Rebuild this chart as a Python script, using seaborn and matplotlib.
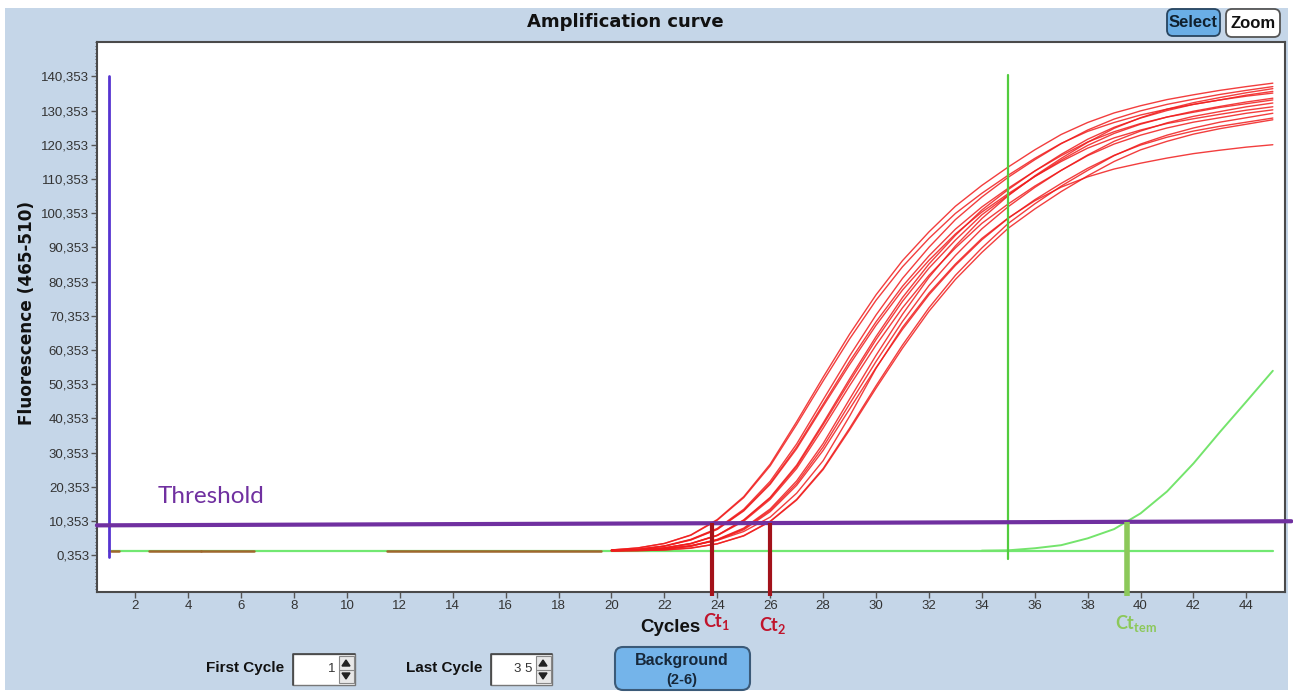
import pandas as pd
import matplotlib
matplotlib.use('Agg')
import matplotlib.pyplot as plt
import seaborn as sns
from matplotlib.patches import Rectangle, FancyBboxPatch, Polygon

# red sample curves, one value per cycle 20..45
red_cycles = list(range(20, 46))
curve_01 = [1900, 2500, 3800, 6300, 10800, 17500, 27000, 39400, 52400, 65000, 76500, 86500, 94900, 102400, 108500, 113900, 118900, 123400, 126900, 129700, 131800, 133600, 135000, 136300, 137400, 138400]
curve_02 = [1800, 2100, 3100, 5000, 8200, 13800, 22000, 32900, 45800, 58600, 70600, 81300, 90400, 98500, 105100, 110900, 116000, 120700, 124700, 127900, 130300, 132200, 133700, 135100, 136300, 137400]
curve_03 = [1900, 2500, 3800, 6200, 10600, 17200, 26500, 38600, 51300, 63600, 74900, 84700, 93000, 100300, 106200, 111500, 116400, 120800, 124300, 126900, 129100, 130800, 132200, 133500, 134600, 135500]
curve_04 = [1700, 1900, 2500, 3800, 6200, 10700, 17300, 26700, 39000, 51900, 64300, 75700, 85500, 93900, 101300, 107300, 112700, 117600, 122000, 125500, 128200, 130400, 132200, 133500, 134900, 136000]
curve_05 = [1800, 2100, 3000, 4900, 8000, 13500, 21400, 32000, 44500, 57000, 68600, 79000, 87900, 95700, 102200, 107700, 112700, 117200, 121200, 124200, 126600, 128500, 129900, 131300, 132400, 133500]
curve_06 = [1700, 1800, 2100, 3000, 4900, 8100, 13500, 21400, 32000, 44600, 57000, 68700, 79200, 88000, 95800, 102300, 107900, 112900, 117400, 121400, 124400, 126800, 128700, 130100, 131500, 132600]
curve_07 = [1700, 1900, 2500, 3700, 6100, 10300, 16700, 25700, 37500, 49900, 61800, 72700, 82200, 90200, 97400, 103100, 108300, 112900, 117200, 120600, 123200, 125300, 127000, 128300, 129600, 130600]
curve_08 = [1700, 1700, 1900, 2500, 3700, 6100, 10300, 16700, 25700, 37500, 49900, 61800, 72700, 82200, 90200, 97400, 103100, 108300, 112900, 117200, 120600, 123200, 125300, 127000, 128300, 129600]
curve_09 = [1700, 1800, 2100, 3000, 4800, 7800, 13100, 20800, 31000, 43100, 55200, 66400, 76500, 85100, 92600, 98900, 104300, 109100, 113500, 117300, 120300, 122600, 124400, 125800, 127000, 128200]
curve_10 = [1700, 1700, 1900, 2400, 3700, 6000, 10200, 16500, 25400, 37000, 49200, 60900, 71700, 81000, 88900, 96000, 101600, 106700, 111300, 115500, 118900, 121400, 123500, 125100, 126400, 127700]
curve_11 = [1800, 2100, 3000, 4800, 7900, 13300, 21100, 31500, 43900, 56100, 67600, 77900, 86600, 94300, 100700, 106100, 111100, 115500, 119400, 122400, 124700, 126600, 128000, 129300, 130500, 131500]
curve_12 = [1700, 1900, 2500, 3800, 6200, 10600, 17100, 26300, 38500, 51100, 63400, 74600, 84300, 92500, 99900, 105700, 111100, 115900, 120200, 123700, 126400, 128500, 130200, 131600, 132900, 134000]
curve_13 = [1700, 1800, 2200, 3100, 5000, 8300, 13900, 22100, 33000, 46000, 58800, 70800, 81600, 90800, 98800, 105500, 111300, 116400, 121100, 125200, 128300, 130800, 132700, 134200, 135600, 136800]
curve_14 = [1700, 1800, 2300, 3200, 4700, 7300, 11500, 18500, 28000, 41000, 55000, 67000, 77000, 85500, 93000, 99000, 104000, 108000, 111000, 113300, 115000, 116500, 117800, 118800, 119700, 120400]
red_curves = [curve_01, curve_02, curve_03, curve_04, curve_05, curve_06, curve_07,
              curve_08, curve_09, curve_10, curve_11, curve_12, curve_13, curve_14]

# late green sample (template)
green_cycles = [34, 35, 36, 37, 38, 39, 40, 41, 42, 43, 44, 45]
green_values = [1700, 1800, 2400, 3300, 5300, 8000, 12600, 19000, 27200, 36400, 45300, 54300]

baseline_x = [1, 45]
baseline_y = [1700, 1700]
# early baseline stretches of the red wells, drawn over the green line
brown_x0 = [1.1, 2.5, 4.5, 11.5]
brown_x1 = [1.4, 4.5, 6.5, 19.6]

threshold_x = [0.55, 45.7]
threshold_y = [9100, 10300]
start_cycle_x = [1, 1]
start_cycle_y = [-300, 140500]
last_cycle_x = [35, 35]
last_cycle_y = [-600, 140800]

ct_1 = 23.8
ct_2 = 26.0
ct_tem = 39.5

y_ticks = [353 + 10000 * k for k in range(15)]
y_ticklabels = [f"{v // 1000},{v % 1000:03d}" for v in y_ticks]
x_ticks = list(range(2, 45, 2))

sns.set_theme(style='white')
plt.rcParams['font.family'] = ['DejaVu Sans']

W, H = 1293, 695
fig = plt.figure(figsize=(W / 100, H / 100), dpi=100, facecolor='white')

# window chrome drawn in pixel coordinates
bg = fig.add_axes([0, 0, 1, 1], zorder=0)
bg.set_xlim(0, W)
bg.set_ylim(H, 0)
bg.axis('off')
bg.add_patch(Rectangle((5, 8), 1283, 682, facecolor='#c5d6e8', edgecolor='none'))
bg.text(625, 22, 'Amplification curve', fontsize=13, fontweight='bold', color='#111111',
        ha='center', va='center')
bg.text(27, 313, 'Fluorescence (465-510)', fontsize=12.2, fontweight='bold', rotation=90,
        ha='center', va='center', color='#111111')
bg.text(670, 628, 'Cycles', fontsize=13.5, fontweight='bold', family='Liberation Sans',
        ha='center', va='center', color='#111111')

bg.add_patch(FancyBboxPatch((1167, 9), 53, 27, boxstyle='round,pad=0,rounding_size=6',
                            facecolor='#6aaee6', edgecolor='#27445f', lw=1.3))
bg.text(1193.5, 22.5, 'Select', fontsize=12, fontweight='bold', family='Liberation Sans',
        ha='center', va='center', color='#10202e')
bg.add_patch(FancyBboxPatch((1226, 9), 54, 28, boxstyle='round,pad=0,rounding_size=6',
                            facecolor='white', edgecolor='#555555', lw=1.3))
bg.text(1253, 23, 'Zoom', fontsize=12, fontweight='bold', family='Liberation Sans',
        ha='center', va='center', color='#111111')

bg.add_patch(FancyBboxPatch((615, 647), 135, 43, boxstyle='round,pad=0,rounding_size=8',
                            facecolor='#74b4ea', edgecolor='#3b5a78', lw=1.5))
bg.text(682, 660, 'Background', fontsize=11.5, fontweight='bold', family='Liberation Sans',
        ha='center', va='center', color='#17283a')
bg.text(682, 680, '(2-6)', fontsize=10.5, fontweight='bold', family='Liberation Sans',
        ha='center', va='center', color='#17283a')


def spin_box(x0, x1, label, value):
    bg.text(x0 - 9, 668, label, fontsize=11, fontweight='bold', family='Liberation Sans',
            ha='right', va='center', color='#111111')
    bg.add_patch(Rectangle((x0, 654), x1 - x0, 31, facecolor='white', edgecolor='#777777', lw=1))
    bg.plot([x0, x0, x1], [685, 654, 654], color='#444444', lw=1.2)
    bg.text(x1 - 20, 669, value, fontsize=9.5, family='Liberation Sans',
            ha='right', va='center', color='#333333')
    sx = x1 - 9
    bg.add_patch(Rectangle((x1 - 16, 656), 15, 27, facecolor='#e8e8e8', edgecolor='#888888', lw=0.8))
    bg.plot([x1 - 16, x1 - 1], [669.5, 669.5], color='#888888', lw=0.8)
    bg.add_patch(Polygon([[sx - 4, 666], [sx + 4, 666], [sx, 660]], closed=True, color='#222222'))
    bg.add_patch(Polygon([[sx - 4, 673], [sx + 4, 673], [sx, 679]], closed=True, color='#222222'))


spin_box(293, 355, 'First Cycle', '1')
spin_box(491, 552, 'Last Cycle', '3 5')

# plotting area
ax = fig.add_axes([97 / W, 1 - 592 / H, (1285 - 97) / W, (592 - 42) / H], zorder=1)
ax.set_facecolor('white')

rows = []
for i, vals in enumerate(red_curves):
    for c, v in zip(red_cycles, vals):
        rows.append({'cycle': c, 'fluor': v, 'well': i})
red_df = pd.DataFrame(rows)
green_df = pd.DataFrame({'cycle': green_cycles, 'fluor': green_values})

ax.plot(baseline_x, baseline_y, color='#72e872', lw=1.6, zorder=2)
for a, b in zip(brown_x0, brown_x1):
    ax.plot([a, b], [baseline_y[0], baseline_y[0]], color='#a0662e', lw=1.8, zorder=2.5)

sns.lineplot(data=red_df, x='cycle', y='fluor', units='well', estimator=None,
             color='#f01c1c', linewidth=1.0, alpha=0.85, legend=False, ax=ax, zorder=3)
sns.lineplot(data=green_df, x='cycle', y='fluor', color='#74e46c', linewidth=1.4,
             legend=False, ax=ax, zorder=3)

ax.plot(start_cycle_x, start_cycle_y, color='#5634d0', lw=2, zorder=4)
ax.plot(last_cycle_x, last_cycle_y, color='#52cc3e', lw=1.6, zorder=4)
ax.plot(threshold_x, threshold_y, color='#7030a0', lw=3, zorder=5, clip_on=False)


def threshold_at(x):
    return threshold_y[0] + (x - threshold_x[0]) * (threshold_y[1] - threshold_y[0]) / (threshold_x[1] - threshold_x[0])


ymin, ymax = -10390, 150440
for ct, col, lw in [(ct_1, '#a3121a', 3), (ct_2, '#a3121a', 3), (ct_tem, '#8cc85a', 4)]:
    ax.plot([ct, ct], [threshold_at(ct), ymin - 1300], color=col, lw=lw, zorder=6,
            clip_on=False, solid_capstyle='butt')

ax.annotate('Ct$_{\\mathregular{1}}$', xy=(ct_1, ymin), xytext=(3, -21), textcoords='offset points',
            ha='center', va='center', fontsize=13, fontweight='bold', family='Lato',
            color='#c0142c', annotation_clip=False)
ax.annotate('Ct$_{\\mathregular{2}}$', xy=(ct_2, ymin), xytext=(2, -24), textcoords='offset points',
            ha='center', va='center', fontsize=13, fontweight='bold', family='Lato',
            color='#c0142c', annotation_clip=False)
ax.annotate('Ct$_{\\mathregular{tem}}$', xy=(ct_tem, ymin), xytext=(6, -23), textcoords='offset points',
            ha='center', va='center', fontsize=13, fontweight='bold', family='Lato',
            color='#8cc85a', annotation_clip=False)
ax.text(2.83, 17600, 'Threshold', color='#7030a0', fontsize=17.5, family='Lato',
        ha='left', va='center', zorder=6)

ax.set_xlim(0.553, 45.46)
ax.set_ylim(ymin, ymax)
ax.set_xticks(x_ticks)
ax.set_yticks(y_ticks)
ax.set_yticklabels(y_ticklabels)
ax.set_yticks([353 + 1000 * k for k in range(-10, 151)], minor=True)
ax.set_xlabel('')
ax.set_ylabel('')
ax.tick_params(which='both', left=True, bottom=True, direction='out', color='#555555')
ax.tick_params(which='major', length=4, width=1, labelsize=9.5, labelcolor='#333333', pad=1.5)
ax.tick_params(axis='y', which='minor', length=1.5, width=0.7)
for lab in ax.get_xticklabels() + ax.get_yticklabels():
    lab.set_family('Liberation Sans')
for s in ax.spines.values():
    s.set_color('#4a4a4a')
    s.set_linewidth(1.5)

fig.savefig('out.png', dpi=100, facecolor=fig.get_facecolor())
